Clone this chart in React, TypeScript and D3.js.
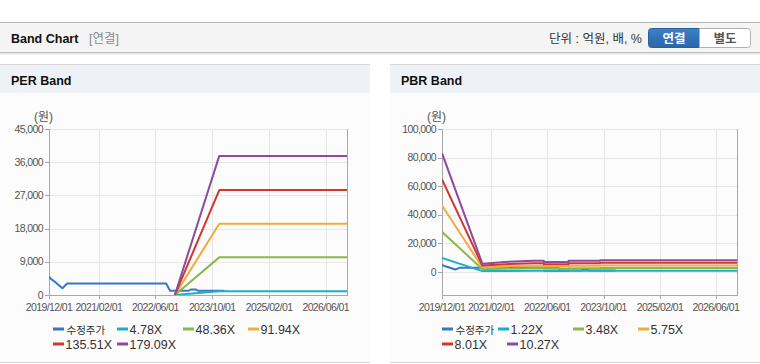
import React from 'react';
import * as d3 from 'd3';

const FONT = "'Liberation Sans', Arial, 'Noto Sans CJK KR', sans-serif";

// x axis
const xTickLabels = ['2019/12/01', '2021/02/01', '2022/06/01', '2023/10/01', '2025/02/01', '2026/06/01'];
const xDomain = ['2019/12/01', '2026/12/01'];

// y axes
const perYTicks = [0, 9000, 18000, 27000, 36000, 45000];
const pbrYTicks = [0, 20000, 40000, 60000, 80000, 100000];

// 수정주가 (adjusted price)
const priceDates = ['2019/12/01', '2019/12/20', '2020/01/20', '2020/03/25', '2020/05/05', '2022/09/01', '2022/10/05',
  '2023/03/15', '2023/04/01', '2023/05/15', '2023/06/01', '2024/01/15'];
const priceValues = [5000, 4300, 3600, 1850, 3100, 3100, 1150, 1150, 1500, 1500, 1150, 1150];

// PER bands
const perBandDates = ['2022/11/15', '2023/12/01', '2026/12/01'];
const per478 = [0, 1010, 1010];
const per4836 = [0, 10200, 10200];
const per9194 = [0, 19300, 19300];
const per13551 = [0, 28450, 28450];
const per17909 = [0, 37700, 37700];

// PBR bands
const pbrBandDates = ['2019/12/01', '2020/11/15', '2021/06/01', '2022/02/01', '2022/05/01', '2022/05/02',
  '2022/12/01', '2022/12/02', '2023/09/01', '2023/09/02', '2026/12/01'];
const pbr122 = [9870, 695, 842, 939, 939, 830, 830, 939, 939, 994, 994];
const pbr348 = [28150, 1984, 2401, 2680, 2680, 2366, 2366, 2680, 2680, 2836, 2836];
const pbr575 = [46520, 3278, 3968, 4428, 4428, 3910, 3910, 4428, 4428, 4686, 4686];
const pbr801 = [64800, 4566, 5527, 6168, 6168, 5447, 5447, 6168, 6168, 6528, 6528];
const pbr1027 = [83080, 5854, 7086, 7908, 7908, 6984, 6984, 7908, 7908, 8370, 8370];

const colors = ['#3a77c2', '#1cb0c6', '#8cb74a', '#f2aa3e', '#d3362d', '#8e4b9d'];

const parse = d3.timeParse('%Y/%m/%d');

type Series = { name: string; color: string; dates: string[]; values: number[] };

const perSeries: Series[] = [
  { name: '수정주가', color: colors[0], dates: priceDates, values: priceValues },
  { name: '4.78X', color: colors[1], dates: perBandDates, values: per478 },
  { name: '48.36X', color: colors[2], dates: perBandDates, values: per4836 },
  { name: '91.94X', color: colors[3], dates: perBandDates, values: per9194 },
  { name: '135.51X', color: colors[4], dates: perBandDates, values: per13551 },
  { name: '179.09X', color: colors[5], dates: perBandDates, values: per17909 },
];

const pbrSeries: Series[] = [
  { name: '수정주가', color: colors[0], dates: priceDates, values: priceValues },
  { name: '1.22X', color: colors[1], dates: pbrBandDates, values: pbr122 },
  { name: '3.48X', color: colors[2], dates: pbrBandDates, values: pbr348 },
  { name: '5.75X', color: colors[3], dates: pbrBandDates, values: pbr575 },
  { name: '8.01X', color: colors[4], dates: pbrBandDates, values: pbr801 },
  { name: '10.27X', color: colors[5], dates: pbrBandDates, values: pbr1027 },
];

const Chart = ({ id, left, right, yDomain, yTicks, series, legendX }: any) => {
  const top = 129;
  const bottom = 295;
  const x = d3.scaleTime().domain(xDomain.map(d => parse(d) as Date)).range([left, right]);
  const y = d3.scaleLinear().domain(yDomain).range([bottom, top]);
  const line = d3.line<[Date, number]>().x(d => x(d[0])).y(d => y(d[1]));
  const fmt = d3.format(',');

  return (
    <g>
      <defs>
        <clipPath id={id}>
          <rect x={left} y={top - 2} width={right - left} height={bottom - top + 2} />
        </clipPath>
      </defs>
      {/* grid */}
      {yTicks.map((t: number) => (
        <line key={'gy' + t} x1={left} x2={right} y1={Math.round(y(t)) + 0.5} y2={Math.round(y(t)) + 0.5} stroke="#e6e6e6" />
      ))}
      {xTickLabels.map(t => (
        <line key={'gx' + t} x1={Math.round(x(parse(t) as Date)) + 0.5} x2={Math.round(x(parse(t) as Date)) + 0.5}
          y1={top} y2={bottom} stroke="#e6e6e6" />
      ))}
      {/* frame */}
      <line x1={left + 0.5} x2={left + 0.5} y1={top} y2={bottom} stroke="#a8a8a8" />
      <line x1={right + 0.5} x2={right + 0.5} y1={top} y2={bottom} stroke="#a8a8a8" />
      <line x1={left} x2={right + 1} y1={bottom + 0.5} y2={bottom + 0.5} stroke="#a8a8a8" />
      {/* y axis */}
      {yTicks.map((t: number) => (
        <g key={'yt' + t}>
          <line x1={left - 4} x2={left} y1={Math.round(y(t)) + 0.5} y2={Math.round(y(t)) + 0.5} stroke="#a8a8a8" />
          <text x={left - 6} y={y(t) + 3.5} textAnchor="end" fontSize={10.5} letterSpacing={-0.6} fill="#555">{fmt(t)}</text>
        </g>
      ))}
      <text x={left - 15} y={121} fontSize={12} fill="#555">(원)</text>
      {/* x axis */}
      {xTickLabels.map(t => {
        const xx = x(parse(t) as Date);
        return (
          <g key={'xt' + t}>
            <line x1={Math.round(xx) + 0.5} x2={Math.round(xx) + 0.5} y1={bottom} y2={bottom + 4} stroke="#a8a8a8" />
            <text x={xx} y={311} textAnchor="middle" fontSize={10.5} letterSpacing={-0.6} fill="#555">{t}</text>
          </g>
        );
      })}
      {/* lines */}
      <g clipPath={`url(#${id})`}>
        {series.map((s: Series) => (
          <path key={s.name} d={line(s.dates.map((d, i) => [parse(d) as Date, s.values[i]])) || ''}
            fill="none" stroke={s.color} strokeWidth={2} strokeLinejoin="round" />
        ))}
      </g>
      {/* legend */}
      {series.map((s: Series, i: number) => {
        const lx = legendX[i];
        const ly = i < 4 ? 329 : 344;
        const korean = /[^\x00-\x7f]/.test(s.name);
        return (
          <g key={'lg' + s.name}>
            <line x1={lx} x2={lx + 11} y1={ly} y2={ly} stroke={s.color} strokeWidth={3} />
            <text x={lx + (korean ? 13.5 : 12.5)} y={ly + 4.5} fontSize={korean ? 10.5 : 12.5} fill="#333">{s.name}</text>
          </g>
        );
      })}
    </g>
  );
};

const Panel = ({ x0, x1, title }: any) => (
  <g>
    <rect x={x0} y={64} width={x1 - x0} height={299} fill="#fcfcfc" />
    <rect x={x0} y={65} width={x1 - x0} height={28} fill="#eef2f7" />
    <line x1={x0} x2={x1} y1={64.5} y2={64.5} stroke="#d6d6d6" />
    <line x1={x0} x2={x1} y1={362.5} y2={362.5} stroke="#d6d6d6" />
    <text x={x0 + 11} y={85} fontSize={12.5} fontWeight="bold" fill="#111">{title}</text>
  </g>
);

export default function App() {
  return (
    <svg width={760} height={364} style={{ position: 'absolute', left: 0, top: 0, fontFamily: FONT }}>
      <defs>
        <linearGradient id="btn" x1="0" y1="0" x2="0" y2="1">
          <stop offset="0" stopColor="#3d80c6" />
          <stop offset="1" stopColor="#2b65aa" />
        </linearGradient>
      </defs>
      <rect x={0} y={0} width={760} height={364} fill="#fff" />
      {/* top header */}
      <line x1={0} x2={760} y1={22.5} y2={22.5} stroke="#b8b8b8" />
      <rect x={0} y={23} width={760} height={29} fill="#f4f4f4" />
      <line x1={0} x2={760} y1={52.5} y2={52.5} stroke="#c2c2c2" />
      <line x1={0} x2={760} y1={53.5} y2={53.5} stroke="#e2e2e2" />
      <line x1={0} x2={760} y1={54.5} y2={54.5} stroke="#f2f2f2" />
      <text x={11} y={43} fontSize={12.5} fontWeight="bold" fill="#111">Band Chart</text>
      <text x={89} y={43} fontSize={12.5} fill="#8a8a8a">[연결]</text>
      <text x={642} y={42.5} fontSize={12.5} textAnchor="end" fill="#333">단위 : 억원, 배, %</text>
      <path d="M699.5,28.5 H651.5 Q648.5,28.5 648.5,31.5 V44.5 Q648.5,47.5 651.5,47.5 H699.5 Z" fill="url(#btn)" stroke="#2a5f9e" />
      <text x={674} y={42.5} fontSize={12.5} fontWeight="bold" textAnchor="middle" fill="#fff">연결</text>
      <path d="M699.5,28.5 H747.5 Q750.5,28.5 750.5,31.5 V44.5 Q750.5,47.5 747.5,47.5 H699.5 Z" fill="#fff" stroke="#b0b0b0" />
      <text x={725} y={42.5} fontSize={12.5} fontWeight="bold" textAnchor="middle" fill="#555">별도</text>

      <Panel x0={0} x1={370} title="PER Band" />
      <Panel x0={390} x1={760} title="PBR Band" />

      <Chart id="clipPer" left={49} right={347} yDomain={[0, 45000]} yTicks={perYTicks}
        series={perSeries} legendX={[53, 117, 183, 248, 53, 117]} />
      <Chart id="clipPbr" left={442} right={737} yDomain={[-16000, 100000]} yTicks={pbrYTicks}
        series={pbrSeries} legendX={[442, 498, 573, 638, 442, 507]} />
    </svg>
  );
}
